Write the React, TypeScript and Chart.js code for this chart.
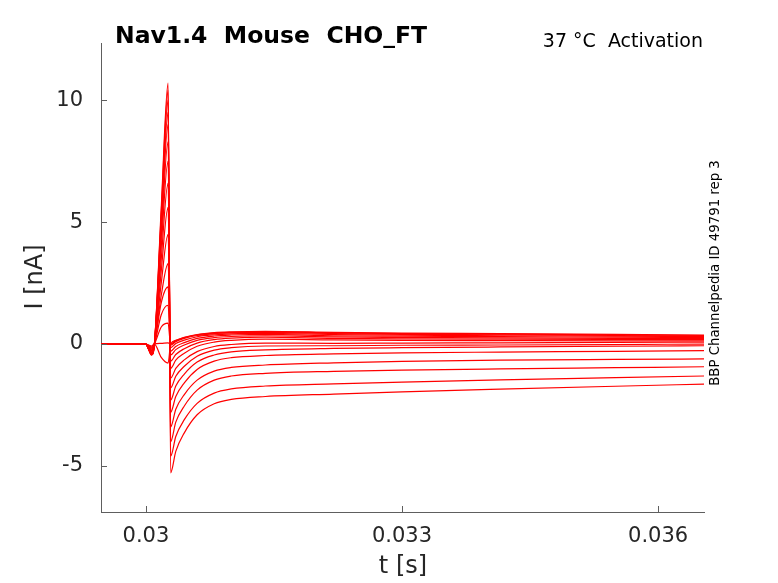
import { useEffect, useRef } from "react";
import { Chart, registerables } from "chart.js";

Chart.register(...registerables);

// sample times (s), shared by every sweep
const times = [
  0.0294, 0.03, 0.03003, 0.030067, 0.0301, 0.03018, 0.03026, 0.03029, 0.03035, 0.03045,
  0.0306, 0.0308, 0.031, 0.0314, 0.0322, 0.033, 0.03415, 0.0355, 0.03655,
];

// current (nA) per sweep
const sweep01 = [0, 0, -0.2, -0.45, 0, 5.6, 10.7, -5.28, -4.4, -3.64, -2.9, -2.45, -2.27, -2.15, -2.05, -1.96, -1.85, -1.73, -1.64];
const sweep02 = [0, 0, -0.2, -0.45, 0, 5.4, 10.4, -4.6, -3.79, -3.1, -2.43, -2.01, -1.84, -1.72, -1.63, -1.56, -1.47, -1.38, -1.31];
const sweep03 = [0, 0, -0.2, -0.44, 0, 5.2, 10.0, -4.0, -3.2, -2.54, -1.89, -1.48, -1.31, -1.2, -1.12, -1.07, -1.02, -0.97, -0.93];
const sweep04 = [0, 0, -0.2, -0.43, 0, 5.0, 9.5, -3.4, -2.67, -2.07, -1.48, -1.11, -0.96, -0.86, -0.77, -0.71, -0.66, -0.63, -0.61];
const sweep05 = [0, 0, -0.19, -0.42, 0, 4.7, 9.0, -2.8, -2.15, -1.59, -1.04, -0.7, -0.56, -0.47, -0.4, -0.36, -0.33, -0.3, -0.27];
const sweep06 = [0, 0, -0.18, -0.4, 0, 4.4, 8.3, -2.3, -1.72, -1.23, -0.74, -0.45, -0.32, -0.24, -0.18, -0.15, -0.12, -0.09, -0.07];
const sweep07 = [0, 0, -0.17, -0.38, 0, 4.0, 7.5, -1.8, -1.32, -0.91, -0.5, -0.25, -0.15, -0.08, -0.07, -0.05, -0.04, -0.02, 0];
const sweep08 = [0, 0, -0.16, -0.36, 0, 3.5, 6.6, -1.4, -1.0, -0.65, -0.31, -0.1, -0.02, 0.04, 0.03, 0.04, 0.05, 0.07, 0.08];
const sweep09 = [0, 0, -0.15, -0.33, 0, 3.0, 5.6, -1.0, -0.66, -0.38, -0.09, 0.08, 0.15, 0.2, 0.17, 0.15, 0.14, 0.13, 0.13];
const sweep10 = [0, 0, -0.14, -0.3, 0, 2.5, 4.5, -0.7, -0.43, -0.19, 0.04, 0.18, 0.24, 0.28, 0.23, 0.21, 0.2, 0.19, 0.18];
const sweep11 = [0, 0, -0.12, -0.27, 0, 2.0, 3.3, -0.45, -0.23, -0.04, 0.15, 0.26, 0.31, 0.34, 0.29, 0.27, 0.25, 0.23, 0.22];
const sweep12 = [0, 0, -0.11, -0.24, 0, 1.7, 2.34, -0.3, -0.1, 0.06, 0.23, 0.33, 0.37, 0.4, 0.34, 0.32, 0.3, 0.28, 0.26];
const sweep13 = [0, 0, -0.09, -0.2, 0, 1.2, 1.59, -0.15, 0.02, 0.16, 0.3, 0.38, 0.42, 0.44, 0.39, 0.36, 0.34, 0.32, 0.3];
const sweep14 = [0, 0, -0.07, -0.16, 0, 0.7, 0.86, -0.05, 0.1, 0.23, 0.35, 0.43, 0.46, 0.48, 0.43, 0.4, 0.38, 0.35, 0.33];
const sweep15 = [0, 0, -0.05, -0.12, 0, 0.03, 0.05, 0, 0.14, 0.26, 0.38, 0.45, 0.48, 0.5, 0.46, 0.43, 0.41, 0.38, 0.35];
const sweep16 = [0, 0, -0.04, -0.08, 0, -0.55, -0.78, 0, 0.15, 0.27, 0.39, 0.47, 0.5, 0.52, 0.48, 0.45, 0.43, 0.4, 0.37];

const sweeps = [
  sweep01, sweep02, sweep03, sweep04, sweep05, sweep06, sweep07, sweep08,
  sweep09, sweep10, sweep11, sweep12, sweep13, sweep14, sweep15, sweep16,
];

const xTicks = [0.03, 0.033, 0.036];
const xTickLabels = ["0.03", "0.033", "0.036"];
const yTicks = [-5, 0, 5, 10];
const yTickLabels = ["-5", "0", "5", "10"];

const FONT = '"DejaVu Sans", sans-serif';
const TEXT = "#262626";
const AXIS = "#5e5e5e";

const overlay = {
  id: "overlay",
  afterDraw(chart: any) {
    const ctx = chart.ctx as CanvasRenderingContext2D;
    const { left, bottom } = chart.chartArea;
    const xs = chart.scales.x;
    const ys = chart.scales.y;
    ctx.save();
    // inward tick marks
    ctx.strokeStyle = AXIS;
    ctx.lineWidth = 1;
    yTicks.forEach((v) => {
      const py = Math.round(ys.getPixelForValue(v)) + 0.5;
      ctx.beginPath();
      ctx.moveTo(left, py);
      ctx.lineTo(left + 6, py);
      ctx.stroke();
    });
    xTicks.forEach((v) => {
      const px = Math.round(xs.getPixelForValue(v)) + 0.5;
      ctx.beginPath();
      ctx.moveTo(px, bottom);
      ctx.lineTo(px, bottom - 6);
      ctx.stroke();
    });

    ctx.fillStyle = "#000";
    ctx.textBaseline = "alphabetic";
    ctx.textAlign = "left";
    ctx.font = `bold 23.5px ${FONT}`;
    ctx.fillText("Nav1.4  Mouse  CHO_FT", 115, 43);

    ctx.textAlign = "right";
    ctx.font = `19px ${FONT}`;
    ctx.fillText("37 °C  Activation", 703, 47);

    ctx.fillStyle = TEXT;
    ctx.textAlign = "center";
    ctx.textBaseline = "middle";
    ctx.font = `24px ${FONT}`;
    ctx.fillText("t [s]", 403, 567);

    ctx.save();
    ctx.translate(36, 277);
    ctx.rotate(-Math.PI / 2);
    ctx.fillText("I [nA]", 0, 0);
    ctx.restore();

    ctx.fillStyle = "#000";
    ctx.save();
    ctx.translate(715.5, 273);
    ctx.rotate(-Math.PI / 2);
    ctx.font = `13.3px ${FONT}`;
    ctx.fillText("BBP Channelpedia ID 49791 rep 3", 0, 0);
    ctx.restore();

    ctx.restore();
  },
};

const App = () => {
  const canvasRef = useRef<HTMLCanvasElement | null>(null);
  const chartRef = useRef<Chart | null>(null);

  useEffect(() => {
    if (!canvasRef.current) return;
    const ctx = canvasRef.current.getContext("2d");
    if (!ctx) return;

    chartRef.current = new Chart(ctx, {
      type: "line",
      data: {
        datasets: sweeps.map((s, i) => ({
          label: `sweep ${i + 1}`,
          data: times.map((t, j) => ({ x: t, y: s[j] })),
          borderColor: "#ff0000",
          borderWidth: 1.2,
          pointRadius: 0,
          fill: false,
          cubicInterpolationMode: "monotone" as const,
        })),
      },
      options: {
        responsive: false,
        animation: false,
        devicePixelRatio: 1,
        layout: { padding: { top: 43, right: 74, left: 0, bottom: 0 } },
        plugins: {
          legend: { display: false },
          tooltip: { enabled: false },
          title: { display: false },
        },
        scales: {
          x: {
            type: "linear",
            min: 0.029474,
            max: 0.036538,
            afterFit: (s: any) => {
              s.height = 71;
            },
            afterBuildTicks: (s: any) => {
              s.ticks = xTicks.map((v) => ({ value: v }));
            },
            grid: { display: false, drawTicks: false },
            border: { display: true, color: AXIS, width: 1 },
            ticks: {
              padding: 12,
              color: TEXT,
              font: { family: FONT, size: 21 },
              maxRotation: 0,
              callback: (_v: any, i: number) => xTickLabels[i],
            },
          },
          y: {
            type: "linear",
            min: -6.885,
            max: 12.34,
            afterFit: (s: any) => {
              s.width = 101;
            },
            afterBuildTicks: (s: any) => {
              s.ticks = yTicks.map((v) => ({ value: v }));
            },
            grid: { display: false, drawTicks: false },
            border: { display: true, color: AXIS, width: 1 },
            ticks: {
              padding: 18,
              color: TEXT,
              font: { family: FONT, size: 21 },
              callback: (_v: any, i: number) => yTickLabels[i],
            },
          },
        },
      },
      plugins: [overlay],
    });

    return () => {
      if (chartRef.current) {
        chartRef.current.destroy();
        chartRef.current = null;
      }
    };
  }, []);

  return (
    <div style={{ position: "fixed", left: 0, top: 0, width: 778, height: 583, background: "#fff" }}>
      <canvas ref={canvasRef} width="778" height="583"></canvas>
    </div>
  );
};

export default App;
